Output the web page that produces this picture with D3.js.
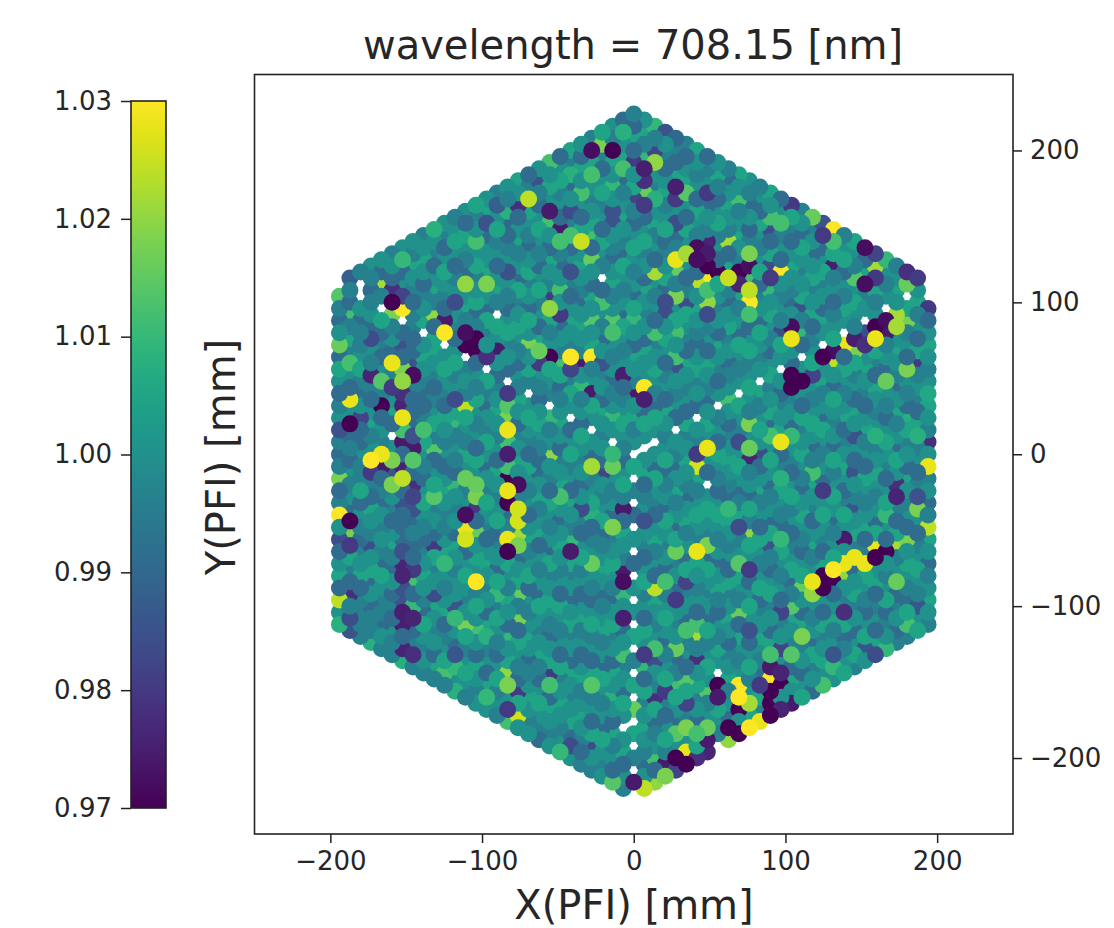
<!DOCTYPE html>
<html>
<head>
<meta charset="utf-8">
<script src="https://cdn.jsdelivr.net/npm/d3@7"></script>
<style>
body { margin: 0; background: #fff; }
text { font-family: "DejaVu Sans", sans-serif; fill: #262626; }
</style>
</head>
<body>
<div id="chart-container"></div>
<script>
var titleText = "wavelength = 708.15 [nm]";
var xTicks = [-200, -100, 0, 100, 200];
var yTicks = [-200, -100, 0, 100, 200];
var colorTicks = [0.97, 0.98, 0.99, 1.00, 1.01, 1.02, 1.03];

// lattice columns of the fibres, mm
var columnX = [-194, -187.1, -180.1, -173.2, -166.3, -159.3, -152.4, -145.5, -138.6, -131.6,
    -124.7, -117.8, -110.9, -103.9, -97, -90.1, -83.1, -76.2, -69.3, -62.4,
    -55.4, -48.5, -41.6, -34.6, -27.7, -20.8, -13.9, -6.9, 0, 6.9,
    13.9, 20.8, 27.7, 34.6, 41.6, 48.5, 55.4, 62.4, 69.3, 76.2,
    83.1, 90.1, 97, 103.9, 110.9, 117.8, 124.7, 131.6, 138.6, 145.5,
    152.4, 159.3, 166.3, 173.2, 180.1, 187.1, 194];
var columnTop = [104, 116, 120, 124, 128, 132, 136, 140, 144, 148,
    152, 156, 160, 164, 168, 172, 176, 180, 184, 188,
    192, 196, 200, 204, 208, 212, 216, 220, 224, 220,
    216, 212, 208, 204, 200, 196, 192, 188, 184, 180,
    176, 172, 168, 164, 160, 156, 152, 148, 144, 140,
    136, 132, 128, 124, 120, 116, 96];

// one letter per fibre, top to bottom, read as levels of the colour bar
var levelKeys = ["c", "d", "e", "f", "g", "h"];
var levelValues = [0.985, 0.991, 0.996, 1.000, 1.005, 1.010];
var columnLevels = [
    "dedfedgfde fdedefdedf edfgdefe",
    "dedfegedfd efgdedfefd edfgeddedd",
    "eedfdeefge dfeddfeegd fedefgdeee e",
    "fedefdgfed edfgefdeed gfeefgdfde ef",
    "fdeefgdedf geedfefgde dfefedgfee dfe",
    "efdedgefdd edfgdefdcd fedfgedfde dfee",
    "fedfedddcd dcdddcddcd dcdddcddcd dcded",
    "fegfedeedd cdedddcded ddcdedddcd eddefe",
    "efgfdefgef gfeddefgfe dfgfedefgf edgfefe",
    "gfedfgefdg gfedefgefd fgeefdfgef dgfefdge",
    "fedfgfedfg efgfedgfef dfgfeefgdf efgdefgfe",
    "efgfdefgfe dfgefdgfef edgfefdgfe ffgefdegfe",
    "fdgfedffge dfgefedgfe gfdefgfedf gfefdgefgf e",
    "gefdfgefgd efgdfegfef dgfefgdefg fdegfefdgf ef",
    "fgedffgefd gefdfgedfe gfdfegfedf gfefdgfefd gef",
    "edfgefdfge dgfefdefgf efdgfefgde fdgfegfedf gefe",
    "fegfdefgfe dfgefdgfef edgfefgdef dgfegfdefg fefdg",
    "gfedfgefdg efgfedfegf defgfdefgf edfgfefdgf edfgef",
    "defgfedfge fdgfefgedf gfedgfefdf gefgdfefgf defgfef",
    "fgedfgfedf gefdgfefed fgfeddfgef gdfefdgfef gedfgfed",
    "efgfdefdgf edfgefdgfe fdefgfedgf efdgefgfed fgefdgfef",
    "dfgefdgfed fgfedfefgd efgfdefgef dfgfefdgfe fdgefgfefd",
    "gefdfgefdf gedfgfefde gfedfgefdg fedfgefdfg efdgfefgde f",
    "fdgfefdgef gfedfgfedf gefdgfefdf gedfgefdfg efdfgefgfe de",
    "efgdfefgfd efdgfefgde fdgfefdgef gfdefgfedf gefdgfefdg ffe",
    "gfedfgefdg fefdgfedfg efdgfefdgf efgdefgfde fgefdgfefd gfef",
    "fedgfefdgf edfgefdgfe fdefgfedgf efdgefgfed fgefdgfefd gefdf",
    "defgfdefgf edgfefdgfe fgdefgfedf gefdgfefdg fedfgefdgf efgdfe",
    "efgdefgfed fgfefdgefd gfedfgefdg fefdgfedgf efdgfefgde fgfefd",
    "fgedfgefdf gefdgfefdg ffefdgfefg defgfedfge fdgfefdgef gfedfg",
    "defgfedfge fdgfefdgef gfedgfefdg fedfgefdfg fefdgfefgd efgde",
    "gfedfgefgd efgdfefgfd efdgfefgde fdgfefdgef gfdefgfedf gefd",
    "fedgfeffde gfedfgefdg fefdgfedfg efdgfefdgf efgdefgfde fgf",
    "edfgefdgfe fdefgfedgf efdgefgfed fgefdgfefd gefdfgfedf gf",
    "gfefdgfefg defgfedfge fdgfefdgef gfedgfefdg fedfgefdfg f",
    "defgdfefgf edfgefdgfe dfgfefdefg fefdgfefdg efgfdefgfe",
    "fgedfgefde gfefdgfedf gefdgfedfg fefdfgedfe gfdfegfe",
    "edfgfefdgf edfgefdefg fdefgfedfg fefdgefgfd efgefdge",
    "gfdefgfedf gefdgfefdg fedfgfdegf efdgfefdgf efgdefg",
    "fedfgefdfg efdfgefgfe dfgfefdgef gfedfgfedf gefdgf",
    "efdgfefgde fdgfefdgef gfedfgefdg fefgdefgfe dfgef",
    "gfefdgefdf gfedfgefgd efgfdefdgf edfgefdgfe fdef",
    "dfgefdgfef edgfefdefg fdefgfedfg fefdgefgfd efg",
    "fgedfgfedf gefdgfefdg fedfgefdef gdefgfefdg fe",
    "efdgfefgde fdgfefdgef gfedfgfedf gefdgfefdf g",
    "gefdfgefgd efgdfefgfd efgfedfgef dgfefdgefd",
    "fedfgefdgf edfgefdgfe fdefgfedgf efdgefgfe",
    "dfgfefdefg fefdgfefdg efgfdefgfe dfgefdgf",
    "efgdfegfef dgfefgdefg fdegfefdgf efgdefg",
    "gfedfgfedf gefdgfefdg fedfgefdfg efdfge",
    "fdgfefdgef gfedfgefdg fefgdefgfe dfgef",
    "edfgefdfge dgfefdefgf efdgfefgde fdgf",
    "gfefdgfefd gfedfgfedf gefdgfefgd efg",
    "efgfdefgfe dfgefdgfef edgfefgdef de",
    "fedgfefdgf edfgefdgfe fdefgfedgf e",
    "dfgefdgfef edgfefdefg fdefgfedfg",
    "edfgfefdgf edfgefdefg fdefgfe"
];

// fibres left out of the lattice, along the spider and elsewhere, mm
var gapX = [-180.1, -180.1, -166.3, -152.4, -138.6, -124.7, -110.9, -97, -83.1, -69.3,
    -55.4, -41.6, -27.7, -13.9, 0, 6.9, 13.9, 27.7, 41.6, 55.4,
    69.3, 83.1, 97, 110.9, 124.7, 138.6, 152.4, 166.3, 180.1,
    0, 0, 0, 0, 0, 0, 0, 0, 0, 0, 0, 0, 0, -6.9,
    -159.3, -90.1, -20.8, 48.5, 55.4];
var gapY = [112, 104, 96, 88, 80, 72, 64, 56, 48, 40,
    32, 24, 16, 8, 0, 4, 8, 16, 24, 32,
    40, 48, 56, 64, 72, 80, 88, 96, 104,
    -16, -32, -48, -64, -80, -96, -112, -128, -144, -160, -176, -192, -208, -180,
    12, 92, 116, -20, -144];

// individually read fibres [x mm, y mm, value], by region of the focal plane
var readUpperLeft = [
    [-194, 104, 1.014], [-165, 113.6, 1.022], [-161.7, 103, 0.97], [-158, 110, 0.978], [-150.7, 105.4, 0.982],
    [-158, 100, 0.97], [-151.8, 96, 1.03], [-159.5, 93.4, 1.018], [-130.3, 93.4, 1.02], [-122.8, 90, 0.974],
    [-109, 113, 1.02], [-95.4, 113.6, 1.018], [-116.2, 101.5, 0.984], [-124.3, 80, 1.03], [-109, 81, 0.972],
    [-102, 79, 0.97], [-71.6, 170, 1.022], [-73.8, 165, 0.978], [-67, 167, 1.022], [-88.6, 166, 0.988],
    [-95.4, 153.7, 0.985], [-81.5, 152.6, 0.99], [-102.4, 141.7, 1.012], [-150.7, 129.6, 1.01], [-82.6, 120, 0.985],
    [-188.5, 94.5, 1.012], [-188, 118.6, 0.988], [-172.7, 79, 0.984], [-131, 148, 1.008], [-85, 160, 1.008]
];
var readUpperMiddle = [
    [-25.4, 200.9, 0.972], [-18.8, 203, 1.018], [-12, 199, 0.97], [15.3, 201, 0.982], [15.3, 192, 1.02],
    [23, 213, 0.985], [29.6, 209.7, 0.99], [-5.6, 212.6, 1.008], [2, 217.4, 0.99], [15.3, 217.4, 1.01],
    [-55, 193, 1.012], [7.6, 196.5, 1.01], [-5.6, 190, 1.012], [2, 191, 0.98], [6.5, 186.6, 0.975],
    [8.7, 181, 0.978], [8.7, 173.4, 1.016], [16.4, 169, 1.008], [29.6, 174.5, 0.975], [30, 168.6, 0.98],
    [36.9, 170.8, 1.014], [49.4, 171.6, 0.98], [2, 169, 0.982], [9, 164.6, 0.98], [-60.6, 181, 0.985],
    [-67.2, 166.8, 1.024], [-54, 159.5, 0.974], [-40.8, 160, 0.984], [-46.3, 149, 0.974], [-52.9, 153.6, 1.012],
    [-46.3, 141.5, 1.012], [-39.7, 146, 1.012], [-33, 141.5, 1.025], [-26.5, 142.6, 1.012], [-12.2, 159, 0.985],
    [-12.2, 152.5, 0.985], [43.9, 137, 0.972], [50.5, 140, 0.976], [50.5, 132.7, 0.974], [64.8, 141.5, 1.022],
    [29.6, 129.4, 1.028], [36.9, 133, 1.022], [43.9, 131.6, 0.972], [50.5, 125, 0.97], [57.5, 121, 0.97],
    [50.5, 116.6, 1.03], [42.4, 111, 1.024], [14.2, 120, 1.022], [28, 119.5, 1.016], [29.6, 105, 1.018],
    [50, 99.7, 1.02], [50.5, 107.4, 1.012], [64.8, 116.9, 1.025], [-25.4, 128.3, 1.016], [-39.7, 120.6, 0.985],
    [-55, 103.4, 0.98], [-46.3, 108.5, 1.012], [-54.7, 94.9, 1.02], [-47.4, 90.9, 0.98], [-20, 102, 1.012],
    [-27.6, 87.6, 1.014], [-12.2, 89.8, 1.014], [-13.3, 80, 1.016], [23, 100.8, 0.984], [23, 93, 0.984],
    [37.3, 100.8, 0.984], [50.5, 93, 0.984], [29.6, 82, 1.012], [15.3, 81, 1.012], [2, 88.7, 1.01],
    [-25.4, 185, 1.012], [-39.7, 185.5, 1.008], [-33, 173, 1.012], [-11.5, 176.7, 1.01], [29.6, 153, 0.984]
];
var readUpperRight = [
    [71, 169, 1.012], [105.9, 165, 0.98], [119.5, 158, 1.016], [126.5, 153.6, 0.985], [133.4, 149, 1.03],
    [126.5, 145, 0.98], [133.8, 141.5, 1.012], [93, 157, 1.012], [98.6, 153, 1.012], [90.9, 147.4, 0.984],
    [77.7, 147, 0.99], [154.7, 137, 0.972], [161.3, 133, 0.982], [161.3, 125, 1.022], [167.9, 128.7, 1.01],
    [131.6, 123, 0.975], [98.6, 121, 1.03], [77.7, 132.7, 1.018], [71, 121.7, 0.97], [77.7, 125, 0.972],
    [71, 113, 0.976], [92, 126, 0.984], [92, 117.3, 0.98], [77.7, 117, 1.012], [77.7, 108.5, 1.024],
    [77.7, 100.8, 1.03], [76.6, 91, 1.012], [92, 108.5, 1.01], [105.2, 84.3, 0.972], [97.5, 80, 0.984],
    [112.9, 97.5, 0.985], [145.9, 115, 1.014], [152.9, 111.8, 0.972], [161.3, 116.6, 0.98], [181.8, 120.6, 0.978],
    [188.8, 117.3, 0.98], [182, 112, 1.016], [194.3, 96.4, 0.98], [172.3, 93, 1.022], [179, 87.6, 1.018],
    [172.3, 84.3, 1.022], [164.6, 88.7, 0.972], [158, 84.3, 0.97], [151.4, 81, 0.984], [144.8, 79, 0.972],
    [158, 77, 1.03], [137.5, 76.6, 1.028], [112.9, 82, 1.01], [105.2, 76.6, 1.028]
];
var readMiddleLeft = [
    [-194.6, 74, 1.016], [-108.8, 73.5, 0.97], [-103.3, 69, 0.97], [-95.6, 64, 0.978], [-87.9, 70, 0.974],
    [-67, 72.4, 1.018], [-188, 63, 1.012], [-160.5, 62.5, 1.028], [-152.8, 58, 1.018], [-152.8, 50.9, 1.02],
    [-146.2, 54.9, 0.972], [-172.6, 54.9, 0.976], [-164.9, 51.5, 1.014], [-160.5, 46.5, 0.98], [-152.8, 41.7, 0.978],
    [-152.8, 34, 0.976], [-188.4, 38.8, 1.028], [-164.9, 35, 0.97], [-109.9, 34.4, 1.024], [-83.5, 42, 0.98],
    [-83.5, 34, 1.014], [-83.5, 26.3, 1.018], [-83.5, 18, 1.028], [-83.5, 9.7, 1.012], [-83.5, 2, 0.975],
    [-83.5, -6.3, 1.012], [-83.5, -14.5, 0.97], [-76.9, -16.6, 0.972], [-83.5, -22.2, 1.028], [-83.5, -29.9, 0.97],
    [-76.9, -33.2, 1.026], [-76.9, -40.8, 1.026], [-76.9, -49.7, 1.022], [-83.5, -54, 1.028], [-76.9, -57.4, 1.018],
    [-83.5, -62.8, 0.97], [-152.8, 26.3, 1.028], [-152.8, 18, 1.012], [-152.8, 9.7, 0.974], [-146.6, 7, 0.974],
    [-146, -1.2, 1.014], [-152.8, -5.7, 0.976], [-152.8, -13.8, 1.024], [-146.2, -17.7, 0.978], [-146.2, -25.4, 0.982],
    [-160.5, -16.6, 1.018], [-164.9, 3, 1.028], [-160.5, -1.2, 1.018], [-172.6, -1.9, 1.03], [-164.9, -5, 0.974],
    [-173.7, -11.2, 0.98], [-188, 23, 0.97], [-181.4, 26.3, 0.982], [-195.7, 18.5, 0.985], [-138.5, 18.5, 1.012],
    [-133, 6.5, 1.014], [-109.9, -12.2, 1.016], [-109.9, -20, 1.016], [-104.4, -17.7, 1.016], [-104.4, -26, 1.018],
    [-109.9, -37, 0.972], [-104.4, -33.6, 0.98], [-109.9, -45.3, 1.028], [-104.4, -50.7, 1.016], [-111, -53.6, 1.026],
    [-133, -25.4, 1.014], [-195.7, -13.4, 1.018], [-194.6, -37.5, 1.03], [-188.4, -40.8, 0.97], [-188.4, -49.6, 1.018],
    [-188.4, -57.4, 0.98], [-195.7, -55, 0.984], [-133, -57.8, 0.98], [-172.6, -58.5, 0.984], [-152.8, -69.5, 0.976],
    [-152.8, -76.7, 0.974], [-146.2, -73.8, 0.98], [-118.7, 38.3, 0.984], [-117.6, 23, 1.01], [-116.5, -17.7, 1.01],
    [-125, -69.5, 1.01]
];
var readCentre = [
    [-54, 65.4, 0.97], [-60.6, 69, 1.016], [-67.2, 72.4, 1.018], [-60.6, 60, 0.98], [-39.7, 64.7, 1.03],
    [-26.5, 64.7, 1.03], [-33, 61, 0.974], [-39.7, 57, 0.982], [-46.3, 57, 1.012], [-18.8, 60, 0.986],
    [-5.2, 53, 0.975], [8.7, 45, 1.03], [2, 41, 0.974], [9, 37, 0.975], [-25.4, 41, 0.974],
    [-33, 46, 1.01], [30.3, 65.4, 1.012], [29.6, 56, 0.985], [-13.3, 78, 1.012], [-54, 2, 1.02],
    [-27.6, -5.6, 1.022], [-14.4, -5.6, 1.016], [-13.3, 2, 1.01], [-21.7, -9, 0.982], [63.7, 35, 1.012],
    [41.7, 0, 0.98], [47.6, 3, 1.028], [41, -8.3, 1.026], [-54, 26, 1.01], [-12.2, 25, 1.01],
    [-49.6, -25.4, 1.012], [-35.7, -33.6, 0.984], [-6.3, -33.6, 0.974], [-13.7, -46, 1.018], [-27.6, -69.5, 1.016],
    [-41.9, -61.8, 0.974], [27.8, -65, 1.016], [41, -65, 1.028], [48.3, -60.7, 1.018], [68, 7.5, 0.98],
    [6.5, -44.6, 0.985], [-6.7, -78, 0.974], [68, -48.6, 0.984], [63.7, -35, 1.01], [-27.6, -37.6, 1.008],
    [-42, -53, 1.01], [68, -73, 1.014]
];
var readMiddleRight = [
    [104.5, 75.8, 1.028], [123.9, 65.9, 0.97], [130.5, 69, 0.972], [137, 73.5, 1.028], [144.8, 75.7, 0.975],
    [152.5, 71.4, 0.978], [145.5, 67.6, 1.018], [131.6, 59.3, 1.024], [159, 75.7, 1.028], [166.8, 78, 0.974],
    [186.6, 60, 0.98], [180, 56, 1.018], [165.7, 47, 1.016], [103, 53.7, 0.97], [109.6, 46, 0.97],
    [103, 42.8, 0.97], [117.3, 51.5, 0.982], [96.4, 41.6, 0.99], [75.5, 19.6, 1.018], [68.9, 6.5, 0.984],
    [96.4, 7.5, 1.028], [89.8, 10.8, 1.012], [103.7, 12, 1.01], [75, 3, 1.016], [82, 0, 0.984],
    [75.5, -4.5, 0.976], [143.7, 13, 0.985], [195.4, 7.5, 0.978], [194.3, -9, 1.028], [117.3, -12.2, 1.012],
    [97.5, -14.5, 1.008], [145.5, -12.2, 0.985], [124.3, -24.4, 0.98], [172.3, -21, 0.978], [172, -27.6, 0.976],
    [186.6, -27.6, 0.985], [186.6, -36.5, 1.018], [194.3, -48.1, 1.024], [164.6, -39.7, 1.01], [75.5, -53, 1.02],
    [137, -55, 0.974], [158, -60.6, 1.028], [173, -60.6, 1.022], [180, -57, 1.018], [159, -68.3, 0.97],
    [165.7, -65, 0.97], [144.8, -69.5, 1.028], [151.4, -72.7, 1.028], [138.2, -72.7, 1.028], [131.6, -76, 1.026],
    [124.3, -78, 0.97], [89.8, -59.5, 0.985], [97.5, -57.4, 1.01], [68.9, -72.7, 1.014], [75, -76, 0.98],
    [148, -38.6, 0.986], [180, 23, 1.008], [186.6, 10.8, 1.008], [159, 10.8, 1.008], [194, 40.5, 1.006]
];
var readLowerLeft = [
    [-152.8, -79, 0.976], [-146.6, -81.3, 1.012], [-105.5, -81.3, 1.03], [-195.7, -93.4, 1.024], [-188.4, -89.4, 0.978],
    [-133, -89.4, 0.984], [-152.8, -86.8, 0.985], [-152.8, -94.5, 0.985], [-152.8, -102.2, 0.975], [-152.8, -110, 0.975],
    [-146.2, -105.5, 0.976], [-146.2, -96.7, 1.01], [-77.6, -89.4, 1.016], [-77.6, -105.5, 1.018], [-109.9, -109.5, 1.018],
    [-104.4, -113, 1.012], [-117.6, -97.8, 0.985], [-117.6, -105.5, 1.01], [-97.8, -117.6, 1.008], [-83.5, -117.6, 1.01],
    [-188.4, -104.4, 0.984], [-188, -114.3, 0.985], [-152.8, -125.3, 0.976], [-146.6, -129.7, 0.978], [-153, -134, 1.008],
    [-83.5, -141.8, 1.02], [-83.5, -149.5, 1.018], [-77.6, -153.2, 0.98], [-83.5, -166, 0.98], [-77.6, -169.3, 1.026],
    [-83.5, -175, 1.012], [-125.3, -141.8, 1.012], [-117.6, -137.4, 1.01], [-117.6, -129.7, 0.986], [-97.8, -158.3, 1.01],
    [-117.6, -155, 1.008], [-172.6, -124, 1.008], [-195.7, -111, 1.008], [-91.2, -89, 1.01]
];
var readLowerMiddle = [
    [-6.7, -81.7, 0.972], [-6.7, -90, 1.01], [13.5, -88.6, 1.024], [20.8, -84.6, 1.012], [33.6, -85, 0.982],
    [26.7, -96.3, 0.98], [-6.7, -105.5, 0.975], [68, -103, 1.016], [35, -114, 1.012], [40.6, -110, 1.012],
    [41, -119.8, 1.022], [12, -126.4, 1.012], [26.3, -128.6, 1.016], [-6.7, -129.7, 1.012], [5.4, -130.8, 0.98],
    [13, -136.3, 0.984], [40.6, -135.6, 0.978], [6.5, -140.7, 1.01], [-54.7, -141, 0.98], [-28.7, -150.6, 1.014],
    [32.9, -148.4, 1.014], [26.3, -152.8, 1.012], [19.7, -156, 0.98], [13, -160.5, 0.978], [34, -165, 0.982],
    [47.2, -157.2, 1.014], [54.5, -151.7, 0.97], [53.8, -159, 0.974], [67, -154, 1.03], [67, -161.6, 1.03],
    [69.2, -168.2, 0.97], [-14.4, -158.3, 1.008], [0, -168, 1.016], [32.9, -178, 1.018], [26.3, -183.6, 1.014],
    [39.5, -184.7, 1.012], [47.2, -180.3, 1.016], [61.5, -181.4, 0.97], [69.2, -183.6, 0.97], [61.9, -189, 1.02],
    [54.9, -192.4, 0.972], [47.6, -190, 0.974], [48.3, -195.7, 0.976], [40.6, -200, 0.978], [33.3, -196.8, 1.028],
    [33.3, -204.5, 0.97], [26.7, -201, 0.97], [27.4, -207.8, 0.982], [19.7, -204.5, 0.974], [13.5, -200, 1.012],
    [19.7, -213.3, 1.018], [13, -216.6, 1.02], [6.5, -221, 1.024], [0, -215.5, 0.974], [-14.4, -215, 1.014],
    [-41.9, -190, 0.984], [-28.7, -190, 0.984], [-49.6, -194.6, 1.01], [-54, -150.6, 1.012]
];
var readLowerRight = [
    [126, -84.6, 0.97], [125, -89, 0.97], [131.6, -82, 0.97], [131.6, -77.6, 1.03], [116.9, -85.7, 1.028],
    [137, -80, 1.02], [117.3, -93, 1.02], [110.7, -89, 1.016], [172.3, -84.6, 1.016], [96.4, -104.4, 0.982],
    [103, -100, 1.014], [137, -104.8, 0.978], [70, -104.4, 1.016], [75, -116, 0.985], [109.6, -121, 1.018],
    [179, -113, 1.012], [187.3, -100.4, 0.986], [95.3, -128.6, 0.982], [101.9, -130.8, 1.014], [88.7, -132.6, 1.012],
    [131.6, -132.6, 0.986], [154.7, -130, 0.986], [159, -133.4, 0.984], [165.7, -128.6, 1.01], [88.7, -139.6, 0.974],
    [97.5, -143, 0.976], [88, -147.3, 1.03], [81, -151.7, 0.98], [96.4, -152, 0.97], [89.8, -156, 0.97],
    [75.5, -165, 1.022], [68.9, -169.3, 0.97], [89.8, -165, 0.97], [89.8, -172.6, 0.97], [96.4, -168, 0.976],
    [104.5, -165, 0.974], [82.1, -177, 1.028], [75.5, -180.3, 1.03], [68.9, -183.6, 0.97], [123.9, -151.7, 1.012],
    [130.5, -141.8, 1.01]
];

var margin = { left: 254.5, right: 1013, top: 74.5, bottom: 834 };
var xScale = d3.scaleLinear().domain([-250, 250]).range([margin.left, margin.right]);
var yScale = d3.scaleLinear().domain([-250, 250]).range([margin.bottom, margin.top]);
var colorPos = d3.scaleLinear().domain([0.97, 1.03]).range([808, 101]);
var colorScale = d3.scaleSequential(d3.interpolateViridis).domain([0.97, 1.03]);

var fibres = [];
columnLevels.forEach(function (levels, i) {
    levels.replace(/ /g, "").split("").forEach(function (key, j) {
        fibres.push({
            x: columnX[i],
            y: columnTop[i] - 8 * j,
            value: levelValues[levelKeys.indexOf(key)]
        });
    });
});

var nearest = function (x, y) {
    return d3.least(fibres, function (f) {
        return (f.x - x) * (f.x - x) + (f.y - y) * (f.y - y);
    });
};

[readUpperLeft, readUpperMiddle, readUpperRight, readMiddleLeft, readCentre, readMiddleRight,
    readLowerLeft, readLowerMiddle, readLowerRight].forEach(function (list) {
    list.forEach(function (d) {
        nearest(d[0], d[1]).value = d[2];
    });
});

gapX.forEach(function (x, i) {
    nearest(x, gapY[i]).gap = true;
});

// the original plots fibres in instrument order, so neighbours overlap unevenly:
// step through them by the golden ratio, with strong deviations tending to lie on top
fibres.forEach(function (f, i) {
    f.order = (i * 0.618034) % 1 + Math.abs(f.value - 1) * 16;
});
var drawOrder = fibres.filter(function (f) { return !f.gap; }).sort(function (a, b) {
    return d3.ascending(a.order, b.order);
});

var svg = d3.select("#chart-container")
    .append("svg")
    .attr("width", 1114)
    .attr("height", 928)
    .style("display", "block");

// fibres
svg.append("g")
    .selectAll("circle")
    .data(drawOrder)
    .enter()
    .append("circle")
    .attr("cx", function (d) { return xScale(d.x); })
    .attr("cy", function (d) { return yScale(d.y); })
    .attr("r", 8.5)
    .attr("fill", function (d) { return colorScale(d.value); });

// frame
svg.append("rect")
    .attr("x", margin.left)
    .attr("y", margin.top)
    .attr("width", margin.right - margin.left)
    .attr("height", margin.bottom - margin.top)
    .attr("fill", "none")
    .attr("stroke", "#222")
    .attr("stroke-width", 1.6);

var styleAxis = function (g, size) {
    g.select(".domain").remove();
    g.selectAll("line").attr("stroke", "#222").attr("stroke-width", 1.5);
    g.selectAll("text").style("font-size", size + "px").attr("fill", "#262626");
};

var minusFormat = function (d) { return d3.format("d")(d).replace("-", "\u2212"); };

svg.append("g")
    .attr("transform", "translate(0," + margin.bottom + ")")
    .call(d3.axisBottom(xScale).tickValues(xTicks).tickSize(9).tickPadding(9).tickFormat(minusFormat))
    .call(styleAxis, 26);

svg.append("g")
    .attr("transform", "translate(" + margin.right + ",0)")
    .call(d3.axisRight(yScale).tickValues(yTicks).tickSize(9).tickPadding(8).tickFormat(minusFormat))
    .call(styleAxis, 26);

// colour bar
var gradient = svg.append("defs")
    .append("linearGradient")
    .attr("id", "viridis")
    .attr("x1", 0).attr("y1", 1).attr("x2", 0).attr("y2", 0);
d3.range(0, 1.01, 0.05).forEach(function (t) {
    gradient.append("stop")
        .attr("offset", t)
        .attr("stop-color", d3.interpolateViridis(t));
});
svg.append("rect")
    .attr("x", 131)
    .attr("y", colorPos(1.03))
    .attr("width", 35)
    .attr("height", colorPos(0.97) - colorPos(1.03))
    .attr("fill", "url(#viridis)")
    .attr("stroke", "#222")
    .attr("stroke-width", 1.6);
svg.append("g")
    .attr("transform", "translate(131,0)")
    .call(d3.axisLeft(colorPos).tickValues(colorTicks).tickSize(10).tickPadding(9).tickFormat(d3.format(".2f")))
    .call(styleAxis, 26);

// labels
svg.append("text")
    .attr("x", 633)
    .attr("y", 59)
    .attr("text-anchor", "middle")
    .style("font-size", "40px")
    .text(titleText);
svg.append("text")
    .attr("x", 634)
    .attr("y", 919)
    .attr("text-anchor", "middle")
    .style("font-size", "40px")
    .text("X(PFI) [mm]");
svg.append("text")
    .attr("transform", "translate(235,457) rotate(-90)")
    .attr("text-anchor", "middle")
    .style("font-size", "40px")
    .text("Y(PFI) [mm]");
</script>
</body>
</html>
